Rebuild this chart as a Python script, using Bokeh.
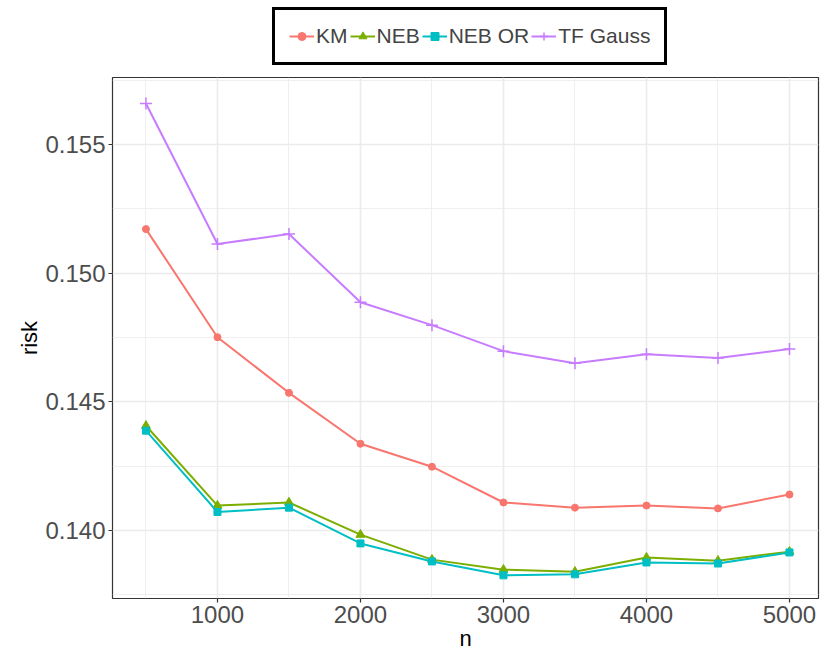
from bokeh.plotting import figure
from bokeh.layouts import column
from bokeh.models import Legend, LegendItem, Range1d, FixedTicker, CustomJSTickFormatter
from bokeh.embed import file_html
from bokeh.resources import INLINE

n = [500, 1000, 1500, 2000, 2500, 3000, 3500, 4000, 4500, 5000]
km = [0.15171, 0.14751, 0.14535, 0.14337, 0.14248, 0.14109, 0.14089, 0.14097, 0.14086, 0.14140]
neb = [0.14407, 0.14097, 0.14109, 0.13984, 0.13887, 0.13848, 0.13840, 0.13895, 0.13883, 0.13918]
neb_or = [0.14388, 0.14072, 0.14089, 0.13950, 0.13880, 0.13826, 0.13830, 0.13876, 0.13872, 0.13915]
tf_gauss = [0.15659, 0.15113, 0.15152, 0.14887, 0.14798, 0.14697, 0.14650, 0.14685, 0.14670, 0.14705]

series_names = ["KM", "NEB", "NEB OR", "TF Gauss"]
colors = ["#F8766D", "#7CAE00", "#00BFC4", "#C77CFF"]
markers = ["circle", "triangle", "square", "cross"]
x_ticks = [1000, 2000, 3000, 4000, 5000]
y_ticks = [0.140, 0.145, 0.150, 0.155]

FONT = "Liberation Sans"
W = 822

p = figure(width=W, height=586, output_backend="svg", toolbar_location=None,
           x_range=Range1d(266, 5203), y_range=Range1d(0.13736, 0.15760),
           min_border_left=112, min_border_right=4, min_border_top=7, min_border_bottom=58)

p.outline_line_color = "#333333"
p.outline_line_width = 1.2

p.xaxis.ticker = FixedTicker(ticks=x_ticks, minor_ticks=[500, 1500, 2500, 3500, 4500])
p.yaxis.ticker = FixedTicker(ticks=y_ticks, minor_ticks=[0.1375, 0.1425, 0.1475, 0.1525, 0.1575])
p.yaxis.formatter = CustomJSTickFormatter(code="return tick.toFixed(3);")

for ax in [p.xaxis[0], p.yaxis[0]]:
    ax.axis_line_color = None
    ax.major_tick_line_color = "#333333"
    ax.major_tick_line_width = 1.2
    ax.major_tick_out = 4
    ax.major_tick_in = 0
    ax.minor_tick_line_color = None
    ax.major_label_text_font = FONT
    ax.major_label_text_font_size = "24px"
    ax.major_label_text_color = "#4D4D4D"
    ax.axis_label_text_font = FONT
    ax.axis_label_text_font_size = "22px"
    ax.axis_label_text_font_style = "normal"
    ax.axis_label_text_color = "#000000"
    ax.axis_label_standoff = 0
    ax.major_label_standoff = 3

p.xaxis.axis_label = "n"
p.yaxis.axis_label = "risk"

for g in [p.xgrid[0], p.ygrid[0]]:
    g.grid_line_color = "#EBEBEB"
    g.grid_line_width = 1.6
    g.minor_grid_line_color = "#EBEBEB"
    g.minor_grid_line_width = 0.8


def add_series(fig, xs, ys, c, mk):
    line = fig.line(xs, ys, line_color=c, line_width=2)
    if mk == "cross":
        m = fig.scatter(xs, ys, marker=mk, size=12, fill_color=None, line_color=c, line_width=1.5)
    elif mk == "triangle":
        m = fig.scatter(xs, ys, marker=mk, size=9, fill_color=c, line_color=c)
    else:
        m = fig.scatter(xs, ys, marker=mk, size=7, fill_color=c, line_color=c)
    return line, m


data = [km, neb, neb_or, tf_gauss]
for ys, c, mk in zip(data, colors, markers):
    add_series(p, n, ys, c, mk)

# legend strip above the plot (series drawn out of its visible range, only the legend shows)
lg = figure(width=W, height=70, output_backend="svg", toolbar_location=None,
            x_range=Range1d(0, 1), y_range=Range1d(0, 1),
            x_axis_type=None, y_axis_type=None, min_border=0)
lg.outline_line_color = None
lg.grid.visible = False

items = []
for name, ys, c, mk in zip(series_names, data, colors, markers):
    line, m = add_series(lg, n, ys, c, mk)
    items.append(LegendItem(label=name, renderers=[line, m]))

legend = Legend(items=items, orientation="horizontal", location=(160, 5),
                border_line_color="black", border_line_width=3, border_line_alpha=1.0,
                label_text_font=FONT, label_text_font_size="21px",
                label_standoff=2, spacing=2, glyph_width=25, glyph_height=20,
                padding=14, margin=0, background_fill_color="white", background_fill_alpha=1.0)
lg.add_layout(legend)

layout = column(lg, p, spacing=0)
open("out.html", "w").write(file_html(layout, INLINE))
